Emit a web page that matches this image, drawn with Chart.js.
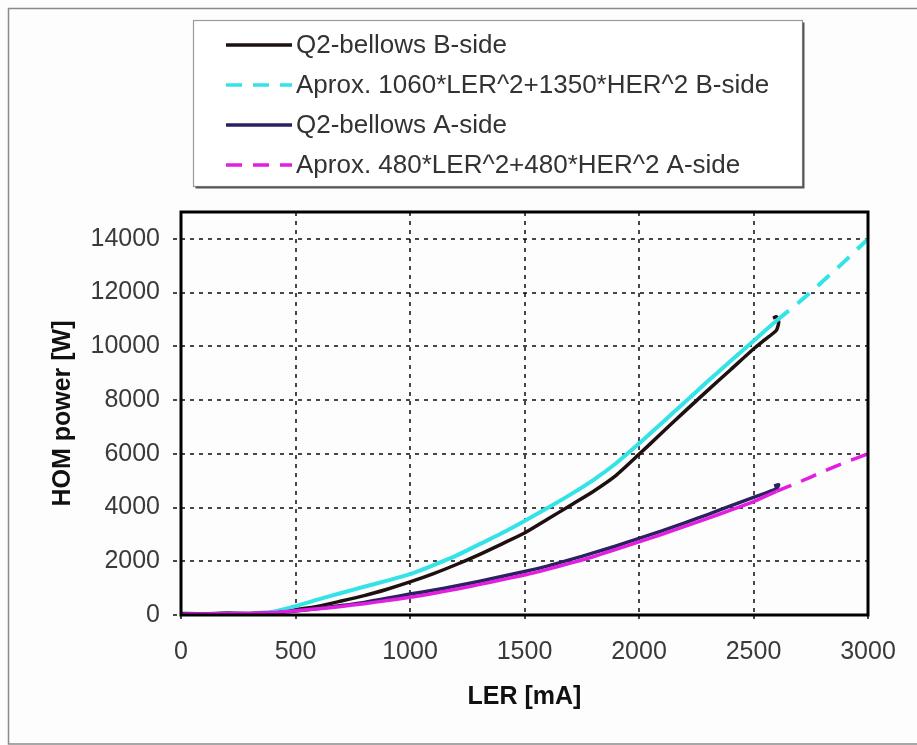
<!DOCTYPE html>
<html>
<head>
<meta charset="utf-8">
<script src="https://cdn.jsdelivr.net/npm/chart.js@4/dist/chart.umd.min.js"></script>
<style>
html,body{margin:0;padding:0;background:#ffffff;}
canvas{display:block;}
</style>
</head>
<body>
<canvas id="c" width="917" height="745"></canvas>
<script>
// ---- data ----
const seriesLabels = [
  "Q2-bellows B-side",
  "Aprox. 1060*LER^2+1350*HER^2 B-side",
  "Q2-bellows A-side",
  "Aprox. 480*LER^2+480*HER^2 A-side"
];
const xTicks = [0, 500, 1000, 1500, 2000, 2500, 3000];
const yTicks = [0, 2000, 4000, 6000, 8000, 10000, 12000, 14000];

// Q2-bellows B-side (measured)
const lerMeasB = [0,100,200,300,400,500,600,700,800,900,1000,1100,1200,1300,1400,1500,1600,1700,1800,1900,2000,2100,2200,2300,2400,2500,2550,2600,2610,2600,2585];
const homMeasB = [20,30,30,40,80,200,330,520,720,960,1230,1530,1870,2240,2640,3050,3560,4080,4600,5200,5980,6780,7580,8360,9130,9900,10250,10600,10900,11100,11050];

// Approx B-side
const lerFitB = [0,100,200,300,400,500,600,700,800,900,1000,1100,1200,1300,1400,1500,1600,1700,1800,1900,2000,2100,2200,2300,2400,2500,2600,2700,2800,2900,3000];
const homFitB = [0,10,20,50,120,330,580,820,1050,1280,1520,1850,2200,2620,3040,3500,3980,4480,5020,5650,6380,7150,7920,8700,9450,10200,10950,11650,12400,13180,14000];

// Q2-bellows A-side (measured)
const lerMeasA = [0,100,200,300,400,500,600,700,800,900,1000,1100,1200,1300,1400,1500,1600,1700,1800,1900,2000,2100,2200,2300,2400,2500,2600,2610,2590];
const homMeasA = [60,50,70,60,80,150,240,350,470,620,780,920,1080,1250,1430,1620,1820,2060,2310,2570,2850,3130,3430,3740,4060,4380,4700,4850,4800];

// Approx A-side
const lerFitA = [0,100,200,300,400,500,600,700,800,900,1000,1100,1200,1300,1400,1500,1600,1700,1800,1900,2000,2100,2200,2300,2400,2500,2600,2700,2800,2900,3000];
const homFitA = [30,40,50,60,90,160,230,320,420,540,660,800,960,1130,1310,1490,1700,1930,2170,2440,2720,3000,3300,3600,3900,4220,4600,4950,5320,5680,6000];

const extrapolationStart = 2600;

function zip(xs, ys){ return xs.map((x,i)=>({x:x, y:ys[i]})); }

const FONT = "'Liberation Sans', Arial, sans-serif";
const dashPattern = [16, 11];

const colors = ['#1e1010', '#33e3e8', '#2b2160', '#e21ee0'];
const widths = [3.5, 4, 3.5, 3.5];
const legendDash = [[], dashPattern, [], dashPattern];

const datasets = [
  {label: seriesLabels[0], data: zip(lerMeasB, homMeasB), order: 4},
  {label: seriesLabels[1], data: zip(lerFitB, homFitB), order: 3,
   segment: {borderDash: ctx => ctx.p0.parsed.x >= extrapolationStart ? dashPattern : undefined}},
  {label: seriesLabels[2], data: zip(lerMeasA, homMeasA), order: 2},
  {label: seriesLabels[3], data: zip(lerFitA, homFitA), order: 1,
   segment: {borderDash: ctx => ctx.p0.parsed.x >= extrapolationStart ? dashPattern : undefined}}
].map((d,i)=>Object.assign({
  showLine: true, pointRadius: 0, pointHoverRadius: 0,
  borderColor: colors[i], backgroundColor: colors[i],
  borderWidth: widths[i], tension: 0.2, fill: false,
  borderJoinStyle: 'round', borderCapStyle: 'butt'
}, d));

const decorPlugin = {
  id: 'decor',
  beforeDraw(chart){
    const c = chart.ctx;
    c.save();
    c.fillStyle = '#fdfdfd';
    c.fillRect(0,0,chart.width,chart.height);
    // outer frame (left, top, bottom)
    c.strokeStyle = '#8a8a8a';
    c.lineWidth = 1.5;
    c.beginPath();
    c.moveTo(917, 8.5); c.lineTo(8.5, 8.5); c.lineTo(8.5, 744); c.lineTo(917, 744);
    c.stroke();
    c.restore();
  },
  afterDatasetsDraw(chart){
    const c = chart.ctx, a = chart.chartArea;
    c.save();
    c.strokeStyle = '#000';
    c.lineWidth = 3;
    c.setLineDash([]);
    c.strokeRect(a.left, a.top, a.right - a.left, a.bottom - a.top);
    c.restore();
  },
  afterDraw(chart){
    const c = chart.ctx;
    c.save();
    // legend box
    const bx = 193.5, by = 20.5, bw = 609, bh = 166;
    c.fillStyle = '#ffffff';
    c.fillRect(bx, by, bw, bh);
    c.strokeStyle = '#9a9a9a';
    c.lineWidth = 1.2;
    c.strokeRect(bx, by, bw, bh);
    c.strokeStyle = '#555';
    c.lineWidth = 2;
    c.beginPath();
    c.moveTo(bx+2, by+bh+1); c.lineTo(bx+bw+1, by+bh+1); c.lineTo(bx+bw+1, by+2);
    c.stroke();
    c.font = '26px ' + FONT;
    c.textBaseline = 'middle';
    c.textAlign = 'left';
    chart.data.datasets.forEach((ds, i) => {
      const y = 45 + i*40;
      c.strokeStyle = ds.borderColor;
      c.lineWidth = 3.5;
      c.setLineDash(legendDash[i]);
      c.beginPath();
      c.moveTo(226, y); c.lineTo(292, y);
      c.stroke();
      c.setLineDash([]);
      c.fillStyle = '#333';
      c.fillText(ds.label, 296, y + 1);
    });
    c.restore();
  }
};

new Chart(document.getElementById('c'), {
  type: 'scatter',
  data: {datasets},
  options: {
    responsive: false,
    devicePixelRatio: 1,
    animation: false,
    layout: {padding: {top: 212, right: 49, left: 0, bottom: 0}},
    plugins: {legend: {display: false}, tooltip: {enabled: false}},
    scales: {
      x: {
        type: 'linear', min: 0, max: 3000,
        afterBuildTicks: s => { s.ticks = xTicks.map(v => ({value: v})); },
        afterFit: s => { s.height = 130; },
        grid: {color: 'rgba(0,0,0,0.72)', lineWidth: 2, tickLength: 8, drawTicks: true,
               tickBorderDash: [4,5], tickColor: 'rgba(0,0,0,0.72)'},
        border: {display: false, dash: [4,5]},
        ticks: {font: {family: FONT, size: 25}, color: '#3a3a3a', padding: 14, maxRotation: 0,
                callback: v => String(v)},
        title: {display: true, text: 'LER [mA]', font: {family: FONT, size: 25, weight: 'bold'},
                color: '#111', padding: {top: 0, bottom: 33}}
      },
      y: {
        type: 'linear', min: 0, max: 15000,
        afterBuildTicks: s => { s.ticks = yTicks.map(v => ({value: v})); },
        afterFit: s => { s.width = 181; },
        grid: {color: 'rgba(0,0,0,0.72)', lineWidth: 2, tickLength: 8, drawTicks: true,
               tickBorderDash: [4,5], tickColor: 'rgba(0,0,0,0.72)'},
        border: {display: false, dash: [4,5]},
        ticks: {font: {family: FONT, size: 25}, color: '#3a3a3a', padding: 13,
                callback: v => String(v)},
        title: {display: true, text: 'HOM power [W]', font: {family: FONT, size: 25, weight: 'bold'},
                color: '#111', padding: {top: 48, bottom: 0}}
      }
    }
  },
  plugins: [decorPlugin]
});
</script>
</body>
</html>
